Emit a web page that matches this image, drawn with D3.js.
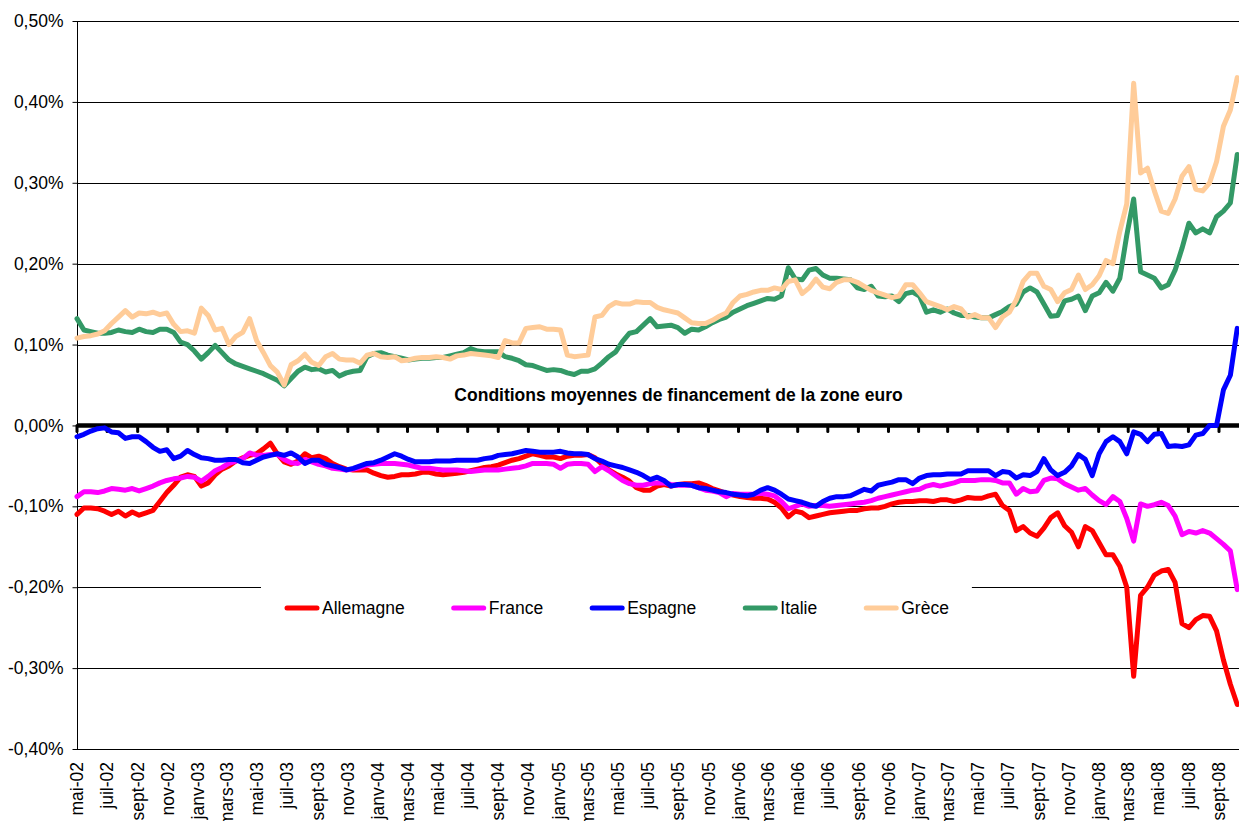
<!DOCTYPE html>
<html>
<head>
<meta charset="utf-8">
<script src="https://cdn.jsdelivr.net/npm/d3@7"></script>
<style>
  body { margin: 0; background: #fff; }
  svg { display: block; font-family: "Liberation Sans", Arial, sans-serif; }
</style>
</head>
<body>
<svg id="chart" width="1239" height="821"></svg>
<script>
// Spreads (in % points) vs. average euro area financing conditions, one value every 14 days from 1 May 2002
const startDate = "2002-05-01";
const stepDays = 14;

const allemagne = [
  -0.110,-0.102,-0.102,-0.103,-0.106,-0.110,-0.106,-0.112,-0.107,-0.111,
  -0.108,-0.105,-0.094,-0.083,-0.074,-0.064,-0.061,-0.063,-0.075,-0.071,
  -0.061,-0.054,-0.050,-0.044,-0.040,-0.037,-0.035,-0.029,-0.022,-0.035,
  -0.045,-0.048,-0.044,-0.035,-0.040,-0.038,-0.041,-0.047,-0.051,-0.054,
  -0.055,-0.055,-0.055,-0.059,-0.062,-0.064,-0.063,-0.061,-0.061,-0.060,
  -0.058,-0.058,-0.060,-0.061,-0.060,-0.059,-0.058,-0.056,-0.054,-0.052,
  -0.051,-0.049,-0.046,-0.043,-0.041,-0.038,-0.035,-0.037,-0.039,-0.039,
  -0.041,-0.038,-0.037,-0.037,-0.036,-0.040,-0.048,-0.055,-0.060,-0.064,
  -0.069,-0.077,-0.080,-0.080,-0.075,-0.073,-0.075,-0.073,-0.072,-0.072,
  -0.071,-0.074,-0.078,-0.081,-0.084,-0.086,-0.088,-0.089,-0.090,-0.090,
  -0.091,-0.095,-0.102,-0.113,-0.106,-0.108,-0.114,-0.112,-0.110,-0.108,
  -0.107,-0.106,-0.105,-0.105,-0.103,-0.102,-0.102,-0.100,-0.097,-0.095,
  -0.094,-0.094,-0.093,-0.093,-0.094,-0.092,-0.092,-0.094,-0.092,-0.089,
  -0.090,-0.090,-0.087,-0.085,-0.099,-0.105,-0.130,-0.125,-0.133,-0.137,
  -0.127,-0.114,-0.108,-0.124,-0.132,-0.150,-0.125,-0.130,-0.145,-0.160,
  -0.160,-0.174,-0.200,-0.310,-0.210,-0.200,-0.185,-0.180,-0.178,-0.194,
  -0.245,-0.250,-0.240,-0.235,-0.236,-0.254,-0.290,-0.320,-0.345
];

const france = [
  -0.088,-0.082,-0.082,-0.083,-0.081,-0.078,-0.079,-0.080,-0.078,-0.081,
  -0.078,-0.075,-0.071,-0.068,-0.066,-0.065,-0.063,-0.064,-0.069,-0.063,
  -0.056,-0.052,-0.047,-0.044,-0.041,-0.034,-0.037,-0.037,-0.036,-0.036,
  -0.042,-0.046,-0.047,-0.042,-0.045,-0.048,-0.050,-0.053,-0.054,-0.055,
  -0.054,-0.052,-0.049,-0.048,-0.047,-0.047,-0.047,-0.048,-0.049,-0.051,
  -0.053,-0.053,-0.054,-0.055,-0.055,-0.055,-0.056,-0.057,-0.056,-0.055,
  -0.055,-0.055,-0.054,-0.053,-0.052,-0.050,-0.047,-0.047,-0.047,-0.048,
  -0.053,-0.048,-0.047,-0.047,-0.048,-0.057,-0.051,-0.056,-0.062,-0.068,
  -0.072,-0.074,-0.074,-0.072,-0.071,-0.071,-0.073,-0.074,-0.074,-0.074,
  -0.077,-0.080,-0.081,-0.083,-0.088,-0.084,-0.085,-0.085,-0.085,-0.084,
  -0.085,-0.087,-0.094,-0.103,-0.100,-0.097,-0.100,-0.099,-0.099,-0.100,
  -0.099,-0.098,-0.097,-0.096,-0.095,-0.093,-0.090,-0.088,-0.086,-0.084,
  -0.082,-0.080,-0.079,-0.075,-0.073,-0.075,-0.073,-0.071,-0.068,-0.068,
  -0.068,-0.067,-0.067,-0.068,-0.071,-0.071,-0.085,-0.078,-0.082,-0.081,
  -0.068,-0.065,-0.066,-0.072,-0.076,-0.080,-0.078,-0.086,-0.093,-0.098,
  -0.088,-0.094,-0.115,-0.143,-0.097,-0.100,-0.098,-0.095,-0.099,-0.112,
  -0.135,-0.131,-0.133,-0.130,-0.133,-0.140,-0.147,-0.155,-0.203
];

const espagne = [
  -0.014,-0.011,-0.007,-0.004,-0.003,-0.008,-0.009,-0.016,-0.014,-0.014,
  -0.020,-0.027,-0.032,-0.030,-0.041,-0.038,-0.031,-0.036,-0.040,-0.041,
  -0.043,-0.043,-0.042,-0.042,-0.046,-0.047,-0.043,-0.039,-0.037,-0.035,
  -0.037,-0.034,-0.039,-0.047,-0.043,-0.043,-0.048,-0.050,-0.052,-0.055,
  -0.053,-0.050,-0.047,-0.046,-0.043,-0.039,-0.035,-0.038,-0.042,-0.045,
  -0.045,-0.045,-0.044,-0.044,-0.044,-0.043,-0.043,-0.043,-0.043,-0.041,
  -0.040,-0.037,-0.036,-0.035,-0.033,-0.031,-0.032,-0.033,-0.033,-0.033,
  -0.032,-0.034,-0.035,-0.035,-0.036,-0.041,-0.044,-0.048,-0.050,-0.052,
  -0.055,-0.058,-0.062,-0.067,-0.064,-0.068,-0.075,-0.073,-0.073,-0.074,
  -0.077,-0.078,-0.080,-0.082,-0.083,-0.085,-0.086,-0.087,-0.085,-0.080,
  -0.077,-0.080,-0.085,-0.091,-0.093,-0.095,-0.098,-0.100,-0.094,-0.090,
  -0.088,-0.088,-0.087,-0.083,-0.079,-0.081,-0.074,-0.072,-0.070,-0.067,
  -0.067,-0.072,-0.065,-0.062,-0.061,-0.061,-0.060,-0.060,-0.060,-0.056,
  -0.056,-0.056,-0.056,-0.062,-0.057,-0.058,-0.065,-0.061,-0.062,-0.057,
  -0.041,-0.055,-0.062,-0.058,-0.050,-0.036,-0.042,-0.062,-0.035,-0.020,
  -0.014,-0.020,-0.035,-0.008,-0.011,-0.020,-0.011,-0.010,-0.026,-0.025,
  -0.026,-0.024,-0.012,-0.010,0.000,0.000,0.044,0.062,0.120
];

const italie = [
  0.132,0.118,0.116,0.114,0.114,0.115,0.118,0.116,0.115,0.119,
  0.116,0.115,0.119,0.119,0.115,0.103,0.100,0.092,0.082,0.090,
  0.099,0.090,0.081,0.076,0.073,0.070,0.067,0.064,0.060,0.056,
  0.049,0.058,0.067,0.072,0.069,0.070,0.066,0.068,0.061,0.065,
  0.067,0.068,0.085,0.089,0.090,0.087,0.085,0.083,0.081,0.082,
  0.083,0.083,0.084,0.084,0.086,0.088,0.090,0.095,0.092,0.091,
  0.091,0.091,0.085,0.083,0.080,0.075,0.074,0.071,0.068,0.069,
  0.068,0.065,0.063,0.067,0.067,0.070,0.077,0.085,0.091,0.104,
  0.114,0.116,0.124,0.132,0.122,0.123,0.124,0.121,0.114,0.119,
  0.118,0.122,0.127,0.131,0.134,0.140,0.144,0.148,0.151,0.154,
  0.157,0.156,0.160,0.195,0.181,0.180,0.192,0.194,0.186,0.182,
  0.182,0.181,0.180,0.170,0.168,0.172,0.160,0.159,0.160,0.153,
  0.163,0.165,0.160,0.140,0.143,0.140,0.144,0.139,0.136,0.136,
  0.134,0.133,0.133,0.137,0.141,0.147,0.150,0.165,0.170,0.165,
  0.150,0.135,0.136,0.154,0.156,0.160,0.142,0.160,0.164,0.177,
  0.166,0.182,0.235,0.280,0.190,0.186,0.182,0.170,0.174,0.192,
  0.219,0.250,0.238,0.243,0.238,0.258,0.265,0.275,0.335
];

const grece = [
  0.108,0.110,0.111,0.113,0.117,0.126,0.134,0.142,0.134,0.139,
  0.138,0.140,0.137,0.139,0.125,0.116,0.117,0.114,0.145,0.136,
  0.118,0.120,0.100,0.110,0.115,0.132,0.105,0.090,0.074,0.066,
  0.050,0.075,0.080,0.088,0.078,0.074,0.085,0.089,0.082,0.081,
  0.081,0.077,0.087,0.089,0.085,0.084,0.085,0.080,0.081,0.083,
  0.084,0.084,0.085,0.084,0.082,0.086,0.087,0.089,0.088,0.087,
  0.086,0.084,0.105,0.102,0.102,0.120,0.121,0.122,0.119,0.119,
  0.118,0.087,0.085,0.086,0.087,0.134,0.136,0.147,0.152,0.150,
  0.150,0.153,0.152,0.152,0.146,0.143,0.141,0.139,0.133,0.127,
  0.126,0.126,0.130,0.135,0.139,0.152,0.160,0.162,0.165,0.167,
  0.167,0.170,0.168,0.178,0.180,0.163,0.170,0.181,0.171,0.169,
  0.177,0.180,0.180,0.177,0.172,0.167,0.164,0.161,0.158,0.160,
  0.174,0.174,0.164,0.153,0.150,0.147,0.143,0.147,0.144,0.134,
  0.137,0.133,0.133,0.121,0.134,0.140,0.155,0.178,0.188,0.188,
  0.172,0.168,0.153,0.164,0.168,0.186,0.168,0.174,0.185,0.204,
  0.200,0.240,0.274,0.423,0.312,0.318,0.290,0.265,0.262,0.280,
  0.308,0.320,0.292,0.290,0.300,0.326,0.370,0.390,0.430
];

const seriesNames = ["Allemagne", "France", "Espagne", "Italie", "Grèce"];
const seriesColors = ["#ff0000", "#ff00ff", "#0000ff", "#339966", "#ffcc99"];
const seriesValues = [allemagne, france, espagne, italie, grece];

const monthNames = ["janv", "févr", "mars", "avr", "mai", "juin", "juil", "août", "sept", "oct", "nov", "déc"];
const yTicks = [0.5, 0.4, 0.3, 0.2, 0.1, 0, -0.1, -0.2, -0.3, -0.4];
const chartTitle = "Conditions moyennes de financement de la zone euro";

// Layout
const svg = d3.select("#chart");
const W = 1239, H = 821;
const plotLeft = 77, plotRight = 1239, plotTop = 21, plotBottom = 749;
const fontSize = "17.5px";

const start = d3.timeParse("%Y-%m-%d")(startDate);
const dates = d3.range(allemagne.length).map((i) => d3.timeDay.offset(start, i * stepDays));

const x = d3.scaleTime()
    .domain([new Date(2002, 4, 1), new Date(2008, 8, 1)])
    .range([plotLeft, 1219]);
const y = d3.scaleLinear().domain([-0.4, 0.5]).range([plotBottom, plotTop]);

const xTicks = d3.timeMonth.every(2).range(new Date(2002, 4, 1), new Date(2008, 9, 1));

svg.append("rect").attr("width", W).attr("height", H).attr("fill", "#fff");

// Grid lines
svg.append("g")
    .selectAll("line")
    .data(yTicks.filter((d) => d !== 0))
    .enter()
    .append("line")
    .attr("x1", plotLeft)
    .attr("x2", plotRight)
    .attr("y1", (d) => Math.round(y(d)) + 0.5)
    .attr("y2", (d) => Math.round(y(d)) + 0.5)
    .attr("stroke", "#000")
    .attr("stroke-width", 1);

// Y axis
const yAxis = svg.append("g")
    .attr("transform", `translate(${plotLeft + 0.5},0)`)
    .call(
        d3.axisLeft(y)
            .tickValues(yTicks)
            .tickSize(5)
            .tickPadding(9)
            .tickFormat((d) => d.toFixed(2).replace(".", ",") + "%")
    );
yAxis.select(".domain").attr("stroke", "#000").attr("d", `M0,${plotTop}V${plotBottom}`);
yAxis.selectAll(".tick line").attr("stroke", "#000");
yAxis.selectAll("text")
    .attr("fill", "#000")
    .style("font-size", fontSize)
    .style("font-family", '"Liberation Sans", Arial, sans-serif');

// Category labels at the bottom
svg.append("g")
    .selectAll("text")
    .data(xTicks)
    .enter()
    .append("text")
    .attr("transform", (d) => `translate(${x(d)},762) rotate(-90)`)
    .attr("text-anchor", "end")
    .attr("dy", "0.35em")
    .style("font-size", fontSize)
    .attr("fill", "#000")
    .text((d) => monthNames[d.getMonth()] + "-" + d3.timeFormat("%y")(d));

// Legend box (hides the grid line behind it)
const legend = svg.append("g");
const legendBg = legend.append("rect").attr("fill", "#fff");
let lx = 285;
const ly = 608;
seriesNames.forEach((name, i) => {
    legend.append("line")
        .attr("x1", lx + 2).attr("x2", lx + 32)
        .attr("y1", ly).attr("y2", ly)
        .attr("stroke", seriesColors[i])
        .attr("stroke-width", 5)
        .attr("stroke-linecap", "round");
    const t = legend.append("text")
        .attr("x", lx + 37)
        .attr("y", ly)
        .attr("dy", "0.36em")
        .style("font-size", fontSize)
        .attr("fill", "#000")
        .text(name);
    lx += 37 + t.node().getComputedTextLength() + 47;
});
legendBg.attr("x", 261).attr("y", 578).attr("width", lx - 47 + 23 - 261).attr("height", 58);

// Title
svg.append("text")
    .attr("x", 678.5)
    .attr("y", 401)
    .attr("text-anchor", "middle")
    .style("font-size", fontSize)
    .style("font-weight", "bold")
    .attr("fill", "#000")
    .text(chartTitle);

// Zero axis with its tick marks
svg.append("line")
    .attr("x1", plotLeft).attr("x2", plotRight)
    .attr("y1", y(0)).attr("y2", y(0))
    .attr("stroke", "#000")
    .attr("stroke-width", 4.5);
svg.append("g")
    .selectAll("line")
    .data(xTicks)
    .enter()
    .append("line")
    .attr("x1", (d) => x(d)).attr("x2", (d) => x(d))
    .attr("y1", y(0)).attr("y2", y(0) + 6)
    .attr("stroke", "#000")
    .attr("stroke-width", 3)
    .attr("stroke-linecap", "round");

// Series
const line = d3.line()
    .defined((d) => d.v !== null)
    .x((d) => x(d.date))
    .y((d) => y(d.v));

seriesValues.forEach((values, i) => {
    const pts = values.map((v, j) => ({ date: dates[j], v }));
    svg.append("path")
        .datum(pts)
        .attr("fill", "none")
        .attr("stroke", seriesColors[i])
        .attr("stroke-width", 5)
        .attr("stroke-linejoin", "round")
        .attr("stroke-linecap", "round")
        .attr("d", line);
});
</script>
</body>
</html>
